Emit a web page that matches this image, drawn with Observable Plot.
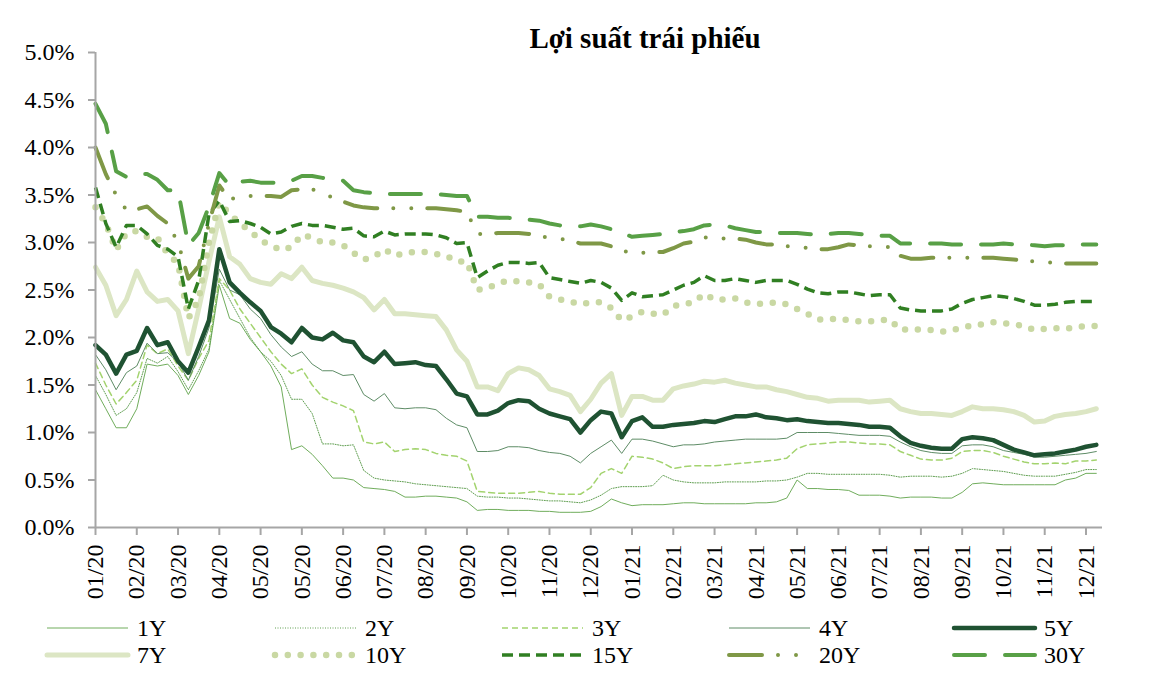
<!DOCTYPE html>
<html>
<head>
<meta charset="utf-8">
<script src="https://cdn.jsdelivr.net/npm/d3@7"></script>
<script src="https://cdn.jsdelivr.net/npm/@observablehq/plot@0.6"></script>
<style>
  html, body { margin: 0; padding: 0; background: #fff; }
  #wrap { position: relative; width: 1150px; height: 676px; overflow: hidden; font-family: "Liberation Serif", "Times New Roman", serif; }
  #title { position: absolute; left: 0; width: 1290px; top: 22px; text-align: center; font-weight: bold; font-size: 29px; color: #000; }
  #chart { position: absolute; left: 0; top: 0; }
  #legend { position: absolute; left: 0; top: 610px; }
</style>
</head>
<body>
<div id="wrap">
  <div id="chart"></div>
  <div id="title">Lợi suất trái phiếu</div>
  <svg id="legend" width="1150" height="66"></svg>
</div>
<script>
// x tick labels (one tick every ~20 trading days)
const xLabels = ["01/20","02/20","03/20","04/20","05/20","05/20","06/20","07/20","08/20","09/20","10/20","11/20","12/20",
  "01/21","02/21","03/21","04/21","05/21","06/21","07/21","08/21","09/21","10/21","11/21","12/21"];
const yTicks = [0, 0.5, 1, 1.5, 2, 2.5, 3, 3.5, 4, 4.5, 5];

// yields (%), sampled every quarter of a tick interval (≈ weekly)
const y1 = [1.45,1.25,1.05,1.05,1.25,1.72,1.7,1.72,1.6,1.4,1.6,1.85,2.55,2.2,2.15,1.98,1.85,1.7,1.48,0.82,0.86,0.77,0.65,0.52,0.52,
  0.5,0.42,0.41,0.4,0.38,0.32,0.32,0.33,0.33,0.32,0.31,0.27,0.18,0.19,0.19,0.18,0.18,0.18,0.17,0.17,0.16,0.16,0.16,0.17,
  0.22,0.3,0.26,0.23,0.24,0.24,0.24,0.25,0.26,0.26,0.25,0.25,0.25,0.25,0.25,0.26,0.26,0.27,0.31,0.5,0.41,0.41,0.4,0.4,
  0.39,0.34,0.34,0.34,0.33,0.31,0.32,0.32,0.32,0.31,0.31,0.37,0.46,0.47,0.46,0.45,0.45,0.45,0.45,0.45,0.45,0.5,0.52,0.57,0.57];
const y2 = [1.6,1.4,1.18,1.25,1.42,1.78,1.73,1.8,1.64,1.45,1.65,1.88,2.6,2.4,2.2,2.0,1.85,1.75,1.6,1.35,1.35,1.2,0.88,0.88,0.86,
  0.87,0.6,0.52,0.5,0.49,0.48,0.46,0.45,0.44,0.43,0.42,0.41,0.33,0.32,0.32,0.31,0.31,0.3,0.29,0.28,0.28,0.27,0.26,0.29,
  0.34,0.41,0.43,0.43,0.43,0.44,0.55,0.5,0.48,0.47,0.47,0.47,0.48,0.48,0.48,0.48,0.49,0.49,0.5,0.53,0.57,0.57,0.56,0.56,
  0.56,0.56,0.56,0.56,0.55,0.53,0.54,0.54,0.54,0.53,0.54,0.57,0.62,0.61,0.6,0.59,0.57,0.55,0.54,0.54,0.54,0.56,0.58,0.61,0.61];
const y3 = [1.73,1.5,1.3,1.42,1.55,1.92,1.83,1.88,1.7,1.55,1.78,1.97,2.62,2.5,2.3,2.15,2.0,1.85,1.72,1.62,1.67,1.5,1.37,1.32,1.28,
  1.23,0.9,0.88,0.9,0.8,0.82,0.83,0.82,0.78,0.76,0.75,0.7,0.38,0.37,0.36,0.36,0.36,0.37,0.38,0.36,0.35,0.35,0.35,0.42,
  0.57,0.62,0.57,0.75,0.74,0.72,0.68,0.62,0.64,0.65,0.65,0.65,0.66,0.67,0.68,0.69,0.7,0.71,0.73,0.83,0.87,0.88,0.89,0.9,
  0.9,0.89,0.88,0.88,0.87,0.8,0.76,0.72,0.71,0.71,0.73,0.8,0.81,0.81,0.79,0.75,0.72,0.69,0.67,0.67,0.68,0.67,0.7,0.7,0.71];
const y4 = [1.82,1.66,1.45,1.63,1.7,1.94,1.83,1.84,1.74,1.55,1.8,2.1,2.72,2.5,2.45,2.3,2.2,2.03,1.9,1.8,1.85,1.72,1.65,1.65,1.6,
  1.61,1.4,1.33,1.41,1.26,1.25,1.26,1.26,1.24,1.15,1.08,1.05,0.8,0.8,0.81,0.85,0.85,0.84,0.81,0.79,0.78,0.75,0.68,0.78,
  0.85,0.92,0.78,0.93,0.93,0.91,0.88,0.85,0.87,0.87,0.88,0.9,0.91,0.92,0.93,0.93,0.93,0.93,0.94,1.0,1.0,1.0,1.0,0.99,
  0.98,0.97,0.97,0.97,0.96,0.9,0.85,0.81,0.79,0.78,0.78,0.86,0.87,0.87,0.85,0.81,0.79,0.77,0.74,0.74,0.75,0.76,0.77,0.78,0.8];
const y5 = [1.92,1.82,1.62,1.82,1.86,2.1,1.92,1.95,1.75,1.63,1.9,2.18,2.93,2.58,2.47,2.37,2.28,2.11,2.04,1.95,2.1,2.0,1.98,2.05,1.97,
  1.95,1.8,1.74,1.85,1.72,1.73,1.74,1.71,1.7,1.56,1.41,1.38,1.19,1.19,1.23,1.31,1.34,1.33,1.25,1.2,1.17,1.14,1.0,1.13,
  1.22,1.2,0.95,1.12,1.16,1.06,1.06,1.08,1.09,1.1,1.12,1.11,1.14,1.17,1.17,1.19,1.16,1.15,1.13,1.14,1.12,1.11,1.1,1.1,
  1.09,1.08,1.06,1.06,1.05,0.96,0.89,0.86,0.84,0.83,0.83,0.93,0.95,0.94,0.92,0.87,0.82,0.79,0.76,0.77,0.78,0.8,0.82,0.85,0.87];
const y7 = [2.74,2.55,2.23,2.4,2.7,2.48,2.38,2.4,2.28,1.83,2.3,2.8,3.27,2.85,2.77,2.62,2.58,2.56,2.67,2.62,2.74,2.6,2.57,2.55,2.52,
  2.48,2.42,2.29,2.4,2.25,2.25,2.24,2.23,2.22,2.08,1.87,1.75,1.48,1.48,1.44,1.62,1.68,1.66,1.6,1.46,1.43,1.39,1.22,1.35,
  1.52,1.62,1.18,1.38,1.38,1.34,1.34,1.46,1.49,1.51,1.54,1.53,1.55,1.52,1.5,1.48,1.48,1.45,1.43,1.4,1.37,1.36,1.33,1.34,
  1.34,1.34,1.32,1.33,1.34,1.25,1.22,1.2,1.2,1.19,1.18,1.22,1.27,1.25,1.25,1.24,1.22,1.18,1.11,1.12,1.17,1.19,1.2,1.22,1.25];
const y10 = [3.37,3.2,2.92,3.1,3.12,3.06,3.05,2.88,2.78,2.2,2.4,3.0,3.42,3.3,3.2,3.12,3.02,2.97,2.92,2.95,3.08,3.05,3.0,3.0,2.97,
  2.89,2.82,2.85,2.93,2.86,2.89,2.9,2.9,2.88,2.86,2.8,2.8,2.5,2.52,2.57,2.6,2.59,2.58,2.56,2.43,2.4,2.38,2.35,2.37,
  2.37,2.31,2.18,2.22,2.27,2.25,2.24,2.33,2.35,2.37,2.46,2.4,2.4,2.41,2.37,2.35,2.36,2.37,2.35,2.3,2.25,2.19,2.19,2.2,
  2.18,2.17,2.17,2.18,2.19,2.08,2.09,2.08,2.08,2.06,2.08,2.1,2.13,2.14,2.16,2.15,2.14,2.12,2.08,2.09,2.1,2.09,2.11,2.12,2.12];
const y15 = [3.58,3.2,2.95,3.18,3.18,3.09,2.97,2.93,2.85,2.3,2.6,3.3,3.44,3.22,3.23,3.2,3.16,3.09,3.11,3.17,3.2,3.18,3.18,3.16,3.14,
  3.15,3.07,3.06,3.12,3.08,3.09,3.09,3.09,3.08,3.05,2.99,3.0,2.63,2.7,2.76,2.79,2.79,2.78,2.79,2.63,2.61,2.59,2.57,2.6,
  2.58,2.52,2.39,2.47,2.43,2.44,2.45,2.5,2.55,2.58,2.65,2.6,2.6,2.62,2.6,2.58,2.6,2.6,2.6,2.56,2.51,2.47,2.46,2.48,
  2.48,2.46,2.44,2.45,2.45,2.31,2.29,2.28,2.28,2.28,2.3,2.36,2.4,2.42,2.44,2.43,2.41,2.38,2.34,2.34,2.35,2.37,2.38,2.38,2.38];
const y20 = [4.0,3.72,3.5,3.34,3.35,3.38,3.28,3.2,3.0,2.62,2.75,3.2,3.6,3.45,3.49,3.49,3.49,3.49,3.48,3.55,3.56,3.56,3.52,3.47,3.43,
  3.39,3.37,3.36,3.36,3.36,3.36,3.36,3.36,3.36,3.35,3.34,3.32,3.09,3.09,3.1,3.1,3.1,3.09,3.07,3.05,3.04,3.02,2.99,2.99,
  2.99,2.96,2.92,2.88,2.89,2.9,2.9,2.94,2.99,3.01,3.05,3.06,3.04,3.04,3.03,3.0,2.98,2.98,2.96,2.96,2.94,2.93,2.93,2.95,
  2.98,2.97,2.96,2.96,2.95,2.86,2.83,2.83,2.84,2.84,2.84,2.84,2.84,2.84,2.84,2.83,2.82,2.81,2.8,2.79,2.79,2.78,2.78,2.78,2.78];
const y30 = [4.46,4.25,3.75,3.69,3.72,3.72,3.66,3.55,3.55,2.97,3.1,3.38,3.73,3.6,3.64,3.65,3.63,3.63,3.63,3.65,3.7,3.7,3.68,3.66,3.65,
  3.55,3.53,3.52,3.51,3.51,3.51,3.51,3.51,3.51,3.5,3.49,3.49,3.27,3.27,3.26,3.26,3.25,3.24,3.23,3.2,3.18,3.17,3.17,3.19,
  3.17,3.14,3.1,3.06,3.07,3.08,3.09,3.11,3.12,3.14,3.18,3.19,3.18,3.15,3.13,3.11,3.11,3.1,3.1,3.1,3.09,3.08,3.09,3.1,
  3.1,3.09,3.08,3.07,3.07,2.99,2.99,2.99,2.99,2.99,2.98,2.98,2.98,2.98,2.98,2.99,2.98,2.98,2.97,2.96,2.97,2.97,2.98,2.98,2.98];

const seriesNames = ["1Y","2Y","3Y","4Y","5Y","7Y","10Y","15Y","20Y","30Y"];
const seriesValues = [y1, y2, y3, y4, y5, y7, y10, y15, y20, y30];
const styles = {
  "1Y":  {stroke: "#70ad5c", strokeWidth: 1},
  "2Y":  {stroke: "#5f9e50", strokeWidth: 1, strokeDasharray: "1,1.5"},
  "3Y":  {stroke: "#a3d36e", strokeWidth: 1.5, strokeDasharray: "6,4"},
  "4Y":  {stroke: "#5e8c66", strokeWidth: 1},
  "5Y":  {stroke: "#1f5232", strokeWidth: 4.5, strokeLinecap: "round"},
  "7Y":  {stroke: "#dce6c4", strokeWidth: 5, strokeLinecap: "round"},
  "10Y": {stroke: "#c9d8a3", strokeWidth: 6.5, strokeDasharray: "0,12.8", strokeLinecap: "round"},
  "15Y": {stroke: "#307f22", strokeWidth: 3.5, strokeDasharray: "11,6", strokeLinecap: "butt"},
  "20Y": {stroke: "#7f9846", strokeWidth: 4, strokeDasharray: "33,16,0,18,0,16", strokeLinecap: "round"},
  "30Y": {stroke: "#58a046", strokeWidth: 4, strokeDasharray: "31,20", strokeLinecap: "round"}
};

const step = 0.25; // one sample per quarter tick interval
const rows = seriesNames.map((name, k) => seriesValues[k].map((v, i) => ({u: i * step, v, name})));

const font = '"Liberation Serif", "Times New Roman", serif';

const chart = Plot.plot({
  width: 1150,
  height: 610,
  marginLeft: 95,
  marginRight: 48,
  marginTop: 52,
  marginBottom: 83,
  style: {fontFamily: font, background: "transparent"},
  x: {domain: [0, 24.4]},
  y: {domain: [0, 5]},
  marks: [
    ...seriesNames.map((name, k) => Plot.line(rows[k], {x: "u", y: "v", strokeLinejoin: "round", ...styles[name]})),
    Plot.ruleX([0], {stroke: "#a6a6a6", strokeWidth: 2}),
    Plot.ruleY([0], {stroke: "#a6a6a6", strokeWidth: 2}),
    Plot.axisY({ticks: yTicks, tickSize: 7, tickPadding: 14, stroke: "#a6a6a6", strokeWidth: 2, fill: "#000",
      fontSize: 24, tickFormat: d => d.toFixed(1) + "%", label: null}),
    Plot.axisX({ticks: d3.range(xLabels.length), tickSize: 8, tickPadding: 9, tickRotate: -90,
      stroke: "#a6a6a6", strokeWidth: 2, fill: "#000", fontSize: 24, tickFormat: i => xLabels[i], label: null})
  ]
});
document.getElementById("chart").appendChild(chart);

// legend
const leg = d3.select("#legend");
const colX = [47, 275, 502, 729, 954];
const rowY = [18, 45];
seriesNames.forEach((name, k) => {
  const x0 = colX[k % 5], y0 = rowY[Math.floor(k / 5)];
  const s = styles[name];
  leg.append("line").attr("x1", x0).attr("x2", x0 + 81).attr("y1", y0).attr("y2", y0)
    .attr("stroke", s.stroke).attr("stroke-width", s.strokeWidth)
    .attr("stroke-dasharray", s.strokeDasharray || null)
    .attr("stroke-linecap", s.strokeLinecap || "butt");
  leg.append("text").attr("x", x0 + 90).attr("y", y0).attr("dy", "0.35em")
    .attr("font-family", font).attr("font-size", 24).attr("fill", "#000").text(name);
});
</script>
</body>
</html>
